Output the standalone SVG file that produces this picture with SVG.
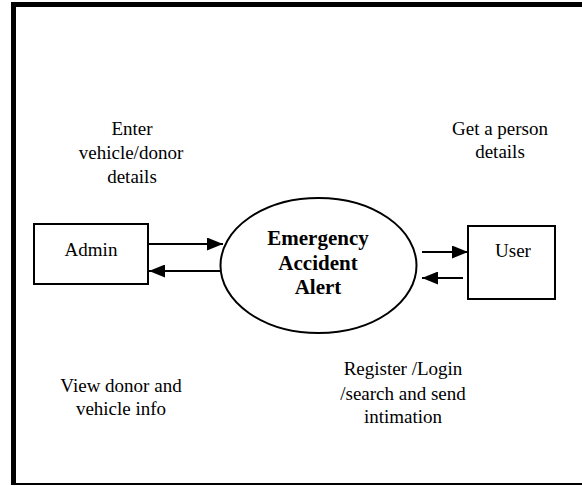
<svg xmlns="http://www.w3.org/2000/svg" width="582" height="486" viewBox="0 0 582 486">
<defs>
<style>
text{font-family:'Liberation Serif','Times New Roman','DejaVu Serif',serif;fill:#000;text-anchor:middle}
.t{font-size:19px}
.b{font-size:21px;font-weight:bold}
.box{fill:#fff;stroke:#000;stroke-width:2}
.ln{stroke:#000;stroke-width:2;fill:none}
</style>
<marker id="ah" viewBox="0 0 16 13" refX="16" refY="6.5" markerWidth="16" markerHeight="13" markerUnits="userSpaceOnUse" orient="auto">
<path d="M0,0 L16,6.5 L0,13 Z" fill="#000"/>
</marker>
</defs>
<rect x="0" y="0" width="582" height="486" fill="#fff"/>
<g id="frame">
<rect x="11" y="2" width="571" height="5" fill="#000"/>
<rect x="11" y="2" width="5" height="483" fill="#000"/>
<rect x="11" y="483" width="571" height="2" fill="#000"/>
</g>
<g id="connectors">
<line class="ln" x1="148" y1="244" x2="223" y2="244" marker-end="url(#ah)"/>
<line class="ln" x1="224" y1="271" x2="149" y2="271" marker-end="url(#ah)"/>
<line class="ln" x1="422" y1="252" x2="468" y2="252" marker-end="url(#ah)"/>
<line class="ln" x1="463" y1="278" x2="422" y2="278" marker-end="url(#ah)"/>
</g>
<g id="admin">
<rect class="box" x="34" y="224" width="114" height="60"/>
<text class="t" x="91" y="256" font-family="Liberation Serif, serif">Admin</text>
</g>
<g id="system">
<ellipse cx="318.5" cy="265.5" rx="98" ry="67.5" fill="#fff" stroke="#000" stroke-width="2"/>
<text class="b" x="318" y="245">Emergency</text>
<text class="b" x="318" y="270">Accident</text>
<text class="b" x="318" y="294">Alert</text>
</g>
<g id="user">
<rect class="box" x="468" y="226" width="87" height="73"/>
<text class="t" x="513" y="257">User</text>
</g>
<g id="labels">
<text class="t" x="132" y="135">Enter</text>
<text class="t" x="131" y="159">vehicle/donor</text>
<text class="t" x="132" y="183">details</text>
<text class="t" x="500" y="135">Get a person</text>
<text class="t" x="500" y="158">details</text>
<text class="t" x="121" y="392">View donor and</text>
<text class="t" x="121" y="415">vehicle info</text>
<text class="t" x="403" y="375">Register /Login</text>
<text class="t" x="403" y="400">/search and send</text>
<text class="t" x="403" y="423">intimation</text>
</g>
</svg>
